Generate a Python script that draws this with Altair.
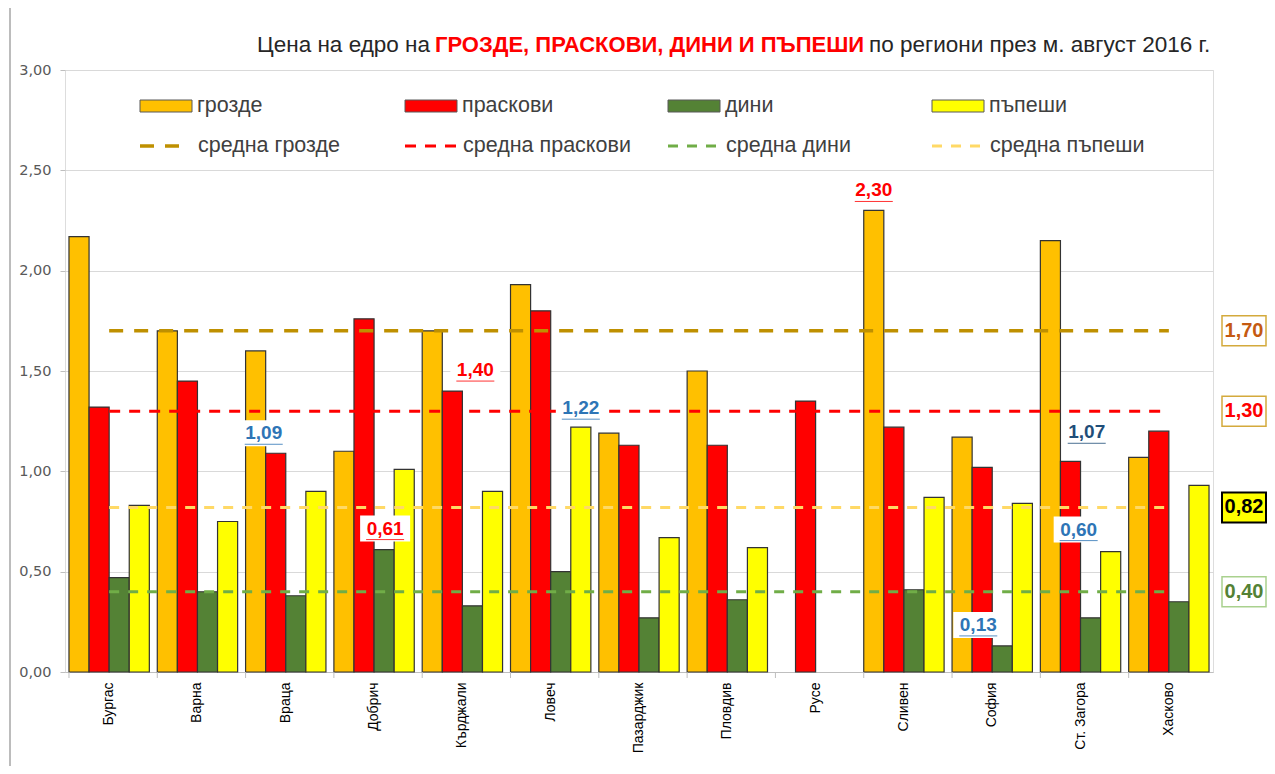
import altair as alt
import pandas as pd

regions = ["Бургас", "Варна", "Враца", "Добрич", "Кърджали", "Ловеч", "Пазарджик",
           "Пловдив", "Русе", "Сливен", "София", "Ст. Загора", "Хасково"]
grozde = [2.17, 1.70, 1.60, 1.10, 1.70, 1.93, 1.19, 1.50, None, 2.30, 1.17, 2.15, 1.07]
praskovi = [1.32, 1.45, 1.09, 1.76, 1.40, 1.80, 1.13, 1.13, 1.35, 1.22, 1.02, 1.05, 1.20]
dini = [0.47, 0.40, 0.38, 0.61, 0.33, 0.50, 0.27, 0.36, None, 0.41, 0.13, 0.27, 0.35]
pypeshi = [0.83, 0.75, 0.90, 1.01, 0.90, 1.22, 0.67, 0.62, None, 0.87, 0.84, 0.60, 0.93]
series = ["грозде", "праскови", "дини", "пъпеши"]
avg_names = ["средна грозде", "средна праскови", "средна дини", "средна пъпеши"]
avg_values = [1.70, 1.30, 0.40, 0.82]
avg_labels = ["1,70", "1,30", "0,40", "0,82"]

title_parts = ["Цена на едро на", "ГРОЗДЕ, ПРАСКОВИ, ДИНИ И ПЪПЕШИ", "по региони през  м. август 2016 г."]

# highlighted data labels: (region, series)
highlights = [("Враца", "праскови"), ("Кърджали", "праскови"), ("Добрич", "дини"),
              ("Ловеч", "пъпеши"), ("Сливен", "грозде"), ("София", "дини"),
              ("Хасково", "грозде"), ("Ст. Загора", "пъпеши")]

# ---------- styles ----------
bar_colors = ["#FFC000", "#FF0000", "#548235", "#FFFF00"]
avg_colors = ["#BF9000", "#FF0000", "#70AD47", "#FFD966"]
avg_dash = [[14, 11], [11, 9], [10, 9], [10, 9]]
avg_width = [3.5, 3, 3, 3]
legend_len = [39, 52, 52, 52]
hl_style = [  # color, dx, dy
    ("#2E75B6", -12, -20), ("#FF0000", 23, -21), ("#FF0000", 1, -21),
    ("#2E75B6", 0, -19), ("#FF0000", 0, -20), ("#2E75B6", -24, -21),
    ("#1F4E79", -52, -25), ("#2E75B6", -32, -22)]
box_style = [  # text color, fill, stroke, strokeWidth
    ("#C55A11", "white", "#D4AA3C", 1.5), ("#FF0000", "white", "#D4AA3C", 1.5),
    ("#548235", "white", "#A9D18E", 1.5), ("#000000", "#FFFF00", "#000000", 2)]

FONT = "Liberation Sans"
W, H = 1148, 602

rows = []
for i, r in enumerate(regions):
    for s, vals in zip(series, [grozde, praskovi, dini, pypeshi]):
        rows.append({"region": r, "series": s, "value": vals[i]})
df = pd.DataFrame(rows)
cat_df = pd.DataFrame({"region": regions})
one = alt.Data(values=[{"k": 1}])

xsc = alt.Scale(paddingInner=0.09, paddingOuter=0.045)
ysc = alt.Scale(domain=[0, 3])
xoff = alt.XOffset("series:N", sort=series, scale=alt.Scale(paddingInner=0, paddingOuter=0))

bars = alt.Chart(df).mark_bar(stroke="#333333", strokeWidth=1.2).encode(
    x=alt.X("region:N", sort=regions, scale=xsc, title=None,
            axis=alt.Axis(labelAngle=270, labelFont=FONT, labelFontSize=14, labelColor="#000000",
                          ticks=False, domainColor="#BFBFBF", labelPadding=10)),
    xOffset=xoff,
    y=alt.Y("value:Q", scale=ysc, title=None,
            axis=alt.Axis(values=[0, 0.5, 1, 1.5, 2, 2.5, 3],
                          labelExpr="replace(format(datum.value, '.2f'), '.', ',')",
                          gridColor="#D9D9D9", domain=False, tickColor="#BFBFBF", tickSize=5,
                          labelFont="DejaVu Sans", labelFontSize=14.5, labelColor="#595959",
                          labelPadding=9)),
    color=alt.Color("series:N", scale=alt.Scale(domain=series, range=bar_colors), legend=None),
)

xticks = alt.Chart(cat_df).mark_rule(color="#BFBFBF").encode(
    x=alt.X("region:N", sort=regions, bandPosition=0),
    y=alt.value(H), y2=alt.value(H + 6))

layers = [bars, xticks]

for i in range(4):
    layers.append(alt.Chart(cat_df).mark_line(
        color=avg_colors[i], strokeDash=avg_dash[i], strokeWidth=avg_width[i]).encode(
        x=alt.X("region:N", sort=regions), y=alt.datum(avg_values[i])))

# highlighted data labels
for (reg, ser), (col, dx, dy) in zip(highlights, hl_style):
    sub = df[(df.region == reg) & (df.series == ser)]
    base = alt.Chart(sub).transform_calculate(
        label="replace(format(datum.value, '.2f'), '.', ',')").encode(
        x=alt.X("region:N", sort=regions), xOffset=xoff, y=alt.Y("value:Q"))
    layers.append(base.mark_point(
        shape=f"M{dx-25},{dy-13}H{dx+25}V{dy+13}H{dx-25}Z", size=4, filled=True,
        color="white", opacity=1, strokeWidth=0))
    layers.append(base.mark_point(
        shape=f"M{dx-19},{dy+11}H{dx+19}", size=4, filled=False,
        color=col, opacity=0.8, strokeWidth=1))
    layers.append(base.mark_text(
        dx=dx, dy=dy, color=col, font=FONT, fontSize=19, fontWeight="bold",
        align="center", baseline="middle").encode(text="label:N"))

# right-side average boxes
for i in range(4):
    tc, fill, stroke, sw = box_style[i]
    b = alt.Chart(one).encode(x=alt.value(W + 31), y=alt.datum(avg_values[i]))
    layers.append(b.mark_point(shape="M-22,-15H22V15H-22Z", size=4, filled=True,
                               fill=fill, stroke=stroke, strokeWidth=sw, opacity=1))
    layers.append(b.mark_text(text=avg_labels[i], color=tc, font=FONT, fontSize=20,
                              fontWeight="bold", align="center", baseline="middle"))

# legend
sw_x = [75, 340, 603, 867]
for i in range(4):
    layers.append(alt.Chart(one).mark_point(
        shape="M-26,-6H26V6H-26Z", size=4, filled=True, fill=bar_colors[i],
        stroke="#595959", strokeWidth=1, opacity=1).encode(
        x=alt.value(sw_x[i] + 26), y=alt.value(36)))
    layers.append(alt.Chart(one).mark_text(
        text=series[i], font=FONT, fontSize=21.5, color="#404040", align="left",
        baseline="middle").encode(x=alt.value(sw_x[i] + 57), y=alt.value(36)))
    layers.append(alt.Chart(one).mark_rule(
        color=avg_colors[i], strokeDash=avg_dash[i], strokeWidth=avg_width[i]).encode(
        x=alt.value(sw_x[i]), x2=alt.value(sw_x[i] + legend_len[i]), y=alt.value(76)))
    layers.append(alt.Chart(one).mark_text(
        text=avg_names[i], font=FONT, fontSize=21.5, color="#404040", align="left",
        baseline="middle").encode(x=alt.value(sw_x[i] + 58), y=alt.value(76)))

# title
layers.append(alt.Chart(one).mark_text(
    text=title_parts[0], font=FONT, fontSize=22.5, color="#262626", align="right",
    baseline="middle").encode(x=alt.value(365), y=alt.value(-25)))
layers.append(alt.Chart(one).mark_text(
    text=title_parts[1], font=FONT, fontSize=22, fontWeight="bold", color="#FF0000",
    align="left", baseline="middle").encode(x=alt.value(370), y=alt.value(-25)))
layers.append(alt.Chart(one).mark_text(
    text=title_parts[2], font=FONT, fontSize=22.5, color="#262626", align="left",
    baseline="middle").encode(x=alt.value(804), y=alt.value(-25)))

# outer frame line on the left
layers.append(alt.Chart(one).mark_rule(color="#A6A6A6", strokeWidth=1.5).encode(
    x=alt.value(-55), y=alt.value(-62), y2=alt.value(H + 96)))

chart = alt.layer(*layers).resolve_scale(color="independent").properties(
    width=W, height=H,
    autosize=alt.AutoSizeParams(type="none"),
    padding={"left": 57, "top": 62, "right": 54, "bottom": 94},
).configure_view(stroke="#D9D9D9", strokeWidth=1).configure(background="white")

chart.save("out.html", embed_options={"renderer": "svg", "actions": False})
